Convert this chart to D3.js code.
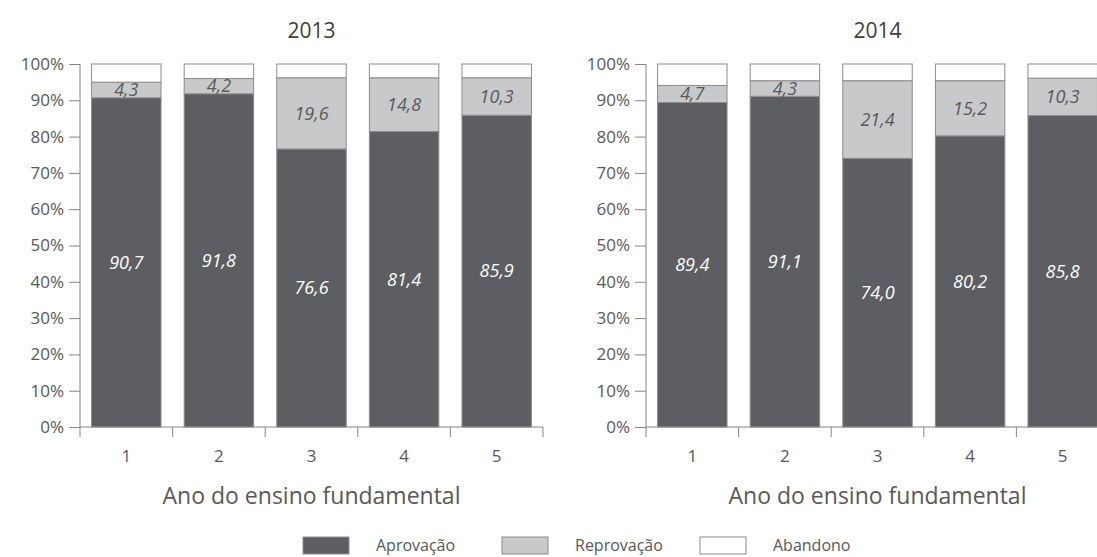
<!DOCTYPE html>
<html>
<head>
<meta charset="utf-8">
<script src="https://cdn.jsdelivr.net/npm/d3@7"></script>
<style>
  body { margin: 0; background: #fff; }
  text { font-family: "Open Sans", sans-serif; fill: #595959; }
</style>
</head>
<body>
<div id="chart"></div>
<script>
// data
var anos = ["1", "2", "3", "4", "5"];
var series = ["Aprovação", "Reprovação", "Abandono"];
var aprov2013 = [90.7, 91.8, 76.6, 81.4, 85.9];
var reprov2013 = [4.3, 4.2, 19.6, 14.8, 10.3];
var aprov2014 = [89.4, 91.1, 74.0, 80.2, 85.8];
var reprov2014 = [4.7, 4.3, 21.4, 15.2, 10.3];
var yTicks = [0, 10, 20, 30, 40, 50, 60, 70, 80, 90, 100];

var colors = ["#5d5e61", "#c8c9cb", "#ffffff"];

var svg = d3.select("#chart").append("svg").attr("width", 1097).attr("height", 557);

// draws one panel (one year)
function panel(title, aprov, reprov, left, right) {
    var y = d3.scaleLinear().domain([0, 100]).range([427, 64]);
    var x = d3.scaleBand().domain(anos).range([left, right]).paddingInner(0.25).paddingOuter(0.125);

    // stacking the three segments; abandono is what is left up to 100
    var rows = anos.map(function(a, i) {
        return {ano: a, "Aprovação": aprov[i], "Reprovação": reprov[i], "Abandono": 100 - aprov[i] - reprov[i]};
    });
    var stacked = d3.stack().keys(series)(rows);

    var g = svg.append("g");

    // title
    g.append("text").attr("x", (left + right) / 2).attr("y", 38).attr("text-anchor", "middle")
        .style("font-size", "21px").style("fill", "#404040").text(title);

    // bars
    g.selectAll(".serie").data(stacked).enter().append("g")
        .attr("fill", function(d, i) { return colors[i]; })
        .selectAll("rect").data(function(d) { return d; }).enter().append("rect")
        .attr("x", function(d) { return x(d.data.ano); })
        .attr("y", function(d) { return y(d[1]); })
        .attr("width", x.bandwidth())
        .attr("height", function(d) { return y(d[0]) - y(d[1]); })
        .attr("stroke", "#8c8c8c").attr("stroke-width", 1);

    // value labels on aprovação and reprovação
    stacked.slice(0, 2).forEach(function(s, k) {
        g.selectAll(".lab" + k).data(s).enter().append("text")
            .attr("x", function(d) { return x(d.data.ano) + x.bandwidth() / 2; })
            .attr("y", function(d) { return y((d[0] + d[1]) / 2); })
            .attr("dy", "0.35em")
            .attr("text-anchor", "middle")
            .style("font-size", "18px").style("font-style", "italic")
            .style("fill", k == 0 ? "#ffffff" : "#595959")
            .text(function(d) { return (d[1] - d[0]).toFixed(1).replace(".", ","); });
    });

    // y axis
    var ya = g.append("g").attr("transform", "translate(" + left + ",0)")
        .call(d3.axisLeft(y).tickValues(yTicks).tickSize(11).tickPadding(5).tickFormat(function(d) { return d + "%"; }));
    ya.selectAll("line, path").attr("stroke", "#868686");
    ya.selectAll("text").style("font-size", "17px").style("font-family", "Open Sans").attr("fill", "#595959");
    ya.select(".domain").attr("d", "M0," + y(100) + "V" + y(0));

    // x axis: labels in the middle, ticks between categories
    var xa = g.append("g").attr("transform", "translate(0," + y(0) + ")")
        .call(d3.axisBottom(x).tickSize(0).tickPadding(23));
    xa.select(".domain").attr("stroke", "#868686").attr("d", "M" + left + ",0H" + right);
    xa.selectAll("text").style("font-size", "17px").style("font-family", "Open Sans").attr("fill", "#595959");
    var bounds = d3.range(anos.length + 1).map(function(i) { return left + i * x.step(); });
    g.selectAll(".sep").data(bounds).enter().append("line")
        .attr("x1", function(d) { return d; }).attr("x2", function(d) { return d; })
        .attr("y1", y(0)).attr("y2", y(0) + 10)
        .attr("stroke", "#868686");

    // axis title
    g.append("text").attr("x", (left + right) / 2).attr("y", 504).attr("text-anchor", "middle")
        .style("font-size", "23px").text("Ano do ensino fundamental");
}

panel("2013", aprov2013, reprov2013, 80, 543);
panel("2014", aprov2014, reprov2014, 646, 1109);

// legend
var legX = [303, 502, 700];
var leg = svg.selectAll(".leg").data(series).enter().append("g")
    .attr("transform", function(d, i) { return "translate(" + legX[i] + ",537)"; });
leg.append("rect").attr("width", 46).attr("height", 17)
    .attr("fill", function(d, i) { return colors[i]; })
    .attr("stroke", "#8c8c8c");
leg.append("text").attr("x", 73).attr("y", 14).style("font-size", "16px").text(function(d) { return d; });
</script>
</body>
</html>
